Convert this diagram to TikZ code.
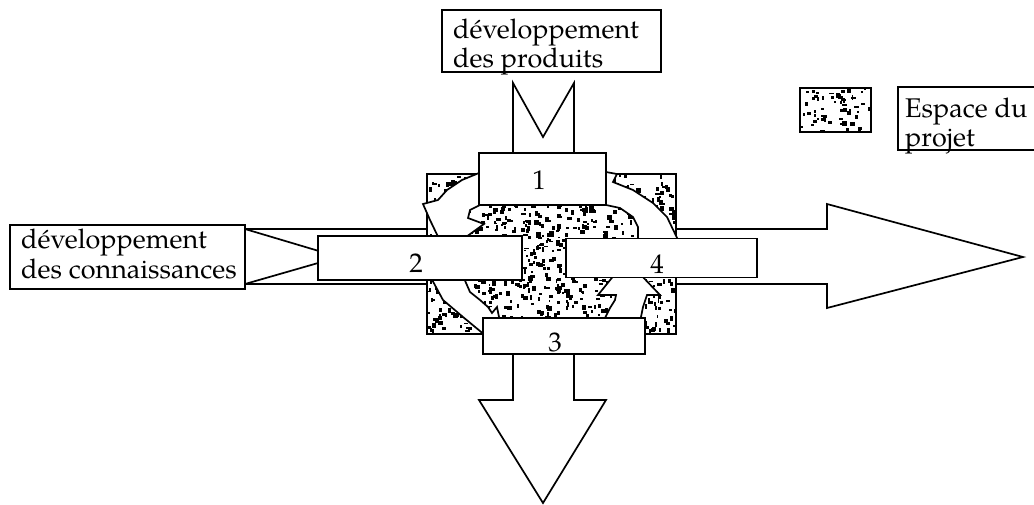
\documentclass[tikz,border=0pt]{standalone}
\usepackage{fontspec}
\setmainfont{TeX Gyre Pagella}
\begin{document}
\begin{tikzpicture}[x=1pt,y=-1pt,
  outline/.style={draw=black,line width=1.7pt,line join=miter,fill=white},
  numbox/.style={outline,rectangle,inner sep=0pt},
  lbl/.style={inner sep=0pt,font=\fontsize{27}{29}\selectfont},
  txt/.style={lbl,anchor=base west}]
\useasboundingbox (0,0) rectangle (1034,504);

% horizontal flow: fishtail on the left, head on the right
\draw[outline] (245,229) -- (827,229) -- (827,204) -- (1023,257) -- (827,308)
  -- (827,284) -- (245,284) -- (339,257) -- cycle;
% vertical flow: fishtail on top, head at the bottom
\draw[outline] (513,83) -- (543,137) -- (574,83) -- (574,400) -- (606,400)
  -- (543,503) -- (479,400) -- (513,400) -- cycle;

% project space: stippled square
\draw[outline] (427,174) rectangle (676,334);
\begin{scope}
  \clip (428,175) rectangle (675,333);
  \pgfmathsetseed{7}
  \foreach \i in {1,...,950}{
    \pgfmathsetmacro{\rx}{427+248*rnd}
    \pgfmathsetmacro{\ry}{174+158*rnd}
    \pgfmathsetmacro{\rw}{1.5+3.5*rnd}
    \pgfmathsetmacro{\rh}{1.5+3.5*rnd}
    \fill (\rx,\ry) rectangle ++(\rw,\rh);
  }
\end{scope}

% cycle arrows
\draw[outline] (479,173) -- (462,180) -- (447,190) -- (438,200) -- (423,204)
  -- (430,220) -- (442,245) -- (455,245) -- (484,224) -- (468,218)
  -- (470,210) -- (480,205) -- cycle;
\draw[outline] (606,172) -- (617,174) -- (613,182) -- (633,190) -- (653,203)
  -- (667,217) -- (679,242) -- (638,242) -- (638,227) -- (633,217)
  -- (620,208) -- (606,205) -- cycle;
\draw[outline] (430,276) -- (443,300) -- (463,317) -- (486,336) -- (500,322)
  -- (497,307) -- (492,313) -- (488,307) -- (480,300) -- (470,292)
  -- (463,276) -- cycle;
\draw[outline] (603,322) -- (610,308) -- (615,300) -- (616,295) -- (598,295)
  -- (615,274) -- (640,274) -- (660,295) -- (647,295) -- (643,307)
  -- (640,322) -- cycle;

% numbered phases
\node[numbox,minimum width=127pt,minimum height=52pt] (b1) at (542.5,179) {};
\node[numbox,minimum width=204pt,minimum height=44pt] (b2) at (420,258) {};
\node[numbox,minimum width=191pt,minimum height=39pt] (b4) at (661.5,258) {};
\node[numbox,minimum width=162pt,minimum height=36pt] (b3) at (564,336) {};
\node[lbl] (n1) at (539,180) {1};
\node[lbl] (n2) at (416,263) {2};
\node[lbl] (n4) at (657,264) {4};
\node[lbl] (n3) at (555,342) {3};

% input labels
\node[numbox,minimum width=219pt,minimum height=62pt] (prod) at (551.5,41) {};
\node[txt] (prod1) at (453,38) {développement};
\node[txt] (prod2) at (453,67) {des produits};
\node[numbox,minimum width=235pt,minimum height=64pt] (conn) at (127.5,257) {};
\node[txt] (conn1) at (21,248) {développement};
\node[txt] (conn2) at (21,278) {des connaissances};

% legend
\draw[outline] (800,88) rectangle (871,132);
\begin{scope}
  \clip (801,89) rectangle (870,131);
  \pgfmathsetseed{11}
  \foreach \i in {1,...,60}{
    \pgfmathsetmacro{\rx}{800+70*rnd}
    \pgfmathsetmacro{\ry}{88+43*rnd}
    \pgfmathsetmacro{\rw}{1.5+3.5*rnd}
    \pgfmathsetmacro{\rh}{1.5+3.5*rnd}
    \fill (\rx,\ry) rectangle ++(\rw,\rh);
  }
\end{scope}
\draw[line width=1.7pt] (1040,87) -- (898,87) -- (898,150) -- (1040,150);
\node[txt] (leg1) at (905,117) {Espace du};
\node[txt] (leg2) at (905,146) {projet};
\end{tikzpicture}
\end{document}
